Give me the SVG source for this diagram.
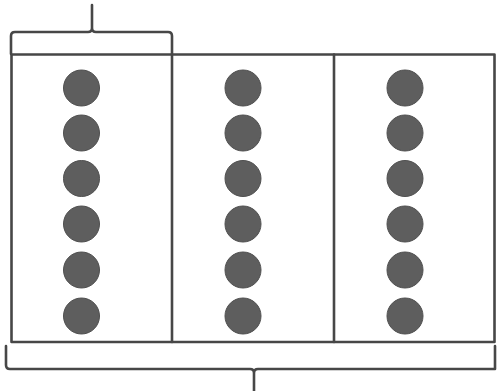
<svg xmlns="http://www.w3.org/2000/svg" width="497" height="391" viewBox="0 0 497 391">
<style>
.ln{fill:none;stroke:#474747;stroke-width:2.6;stroke-linejoin:round;stroke-linecap:round}
.dot{fill:#5e5e5e;stroke:#505050;stroke-width:1}
</style>
<rect width="497" height="391" fill="#ffffff"/>
<g id="frame">
<rect class="ln" x="11.5" y="54.5" width="483" height="287.5"/>
</g>
<g id="col1">
<circle class="dot" cx="81.5" cy="88" r="18"/>
<circle class="dot" cx="81.5" cy="133" r="18"/>
<circle class="dot" cx="81.5" cy="178.5" r="18"/>
<circle class="dot" cx="81.5" cy="224" r="18"/>
<circle class="dot" cx="81.5" cy="270" r="18"/>
<circle class="dot" cx="81.5" cy="316" r="18"/>
</g>
<g id="col2">
<line class="ln" x1="172" y1="54.5" x2="172" y2="342"/>
<circle class="dot" cx="243" cy="88" r="18"/>
<circle class="dot" cx="243" cy="133" r="18"/>
<circle class="dot" cx="243" cy="178.5" r="18"/>
<circle class="dot" cx="243" cy="224" r="18"/>
<circle class="dot" cx="243" cy="270" r="18"/>
<circle class="dot" cx="243" cy="316" r="18"/>
</g>
<g id="col3">
<line class="ln" x1="334" y1="54.5" x2="334" y2="342"/>
<circle class="dot" cx="405" cy="88" r="18"/>
<circle class="dot" cx="405" cy="133" r="18"/>
<circle class="dot" cx="405" cy="178.5" r="18"/>
<circle class="dot" cx="405" cy="224" r="18"/>
<circle class="dot" cx="405" cy="270" r="18"/>
<circle class="dot" cx="405" cy="316" r="18"/>
</g>
<g id="connectors">
<path class="ln" d="M11,54 L11,36 Q11,32 15,32 L88,32 Q92,32 92,28 L92,5 M92,28 Q92,32 96,32 L168,32 Q172,32 172,36 L172,54"/>
<path class="ln" d="M6,346 L6,365 Q6,369 10,369 L250,369 Q254,369 254,373 L254,391 M254,373 Q254,369 258,369 L495,369 L495,346"/>
</g>
</svg>
